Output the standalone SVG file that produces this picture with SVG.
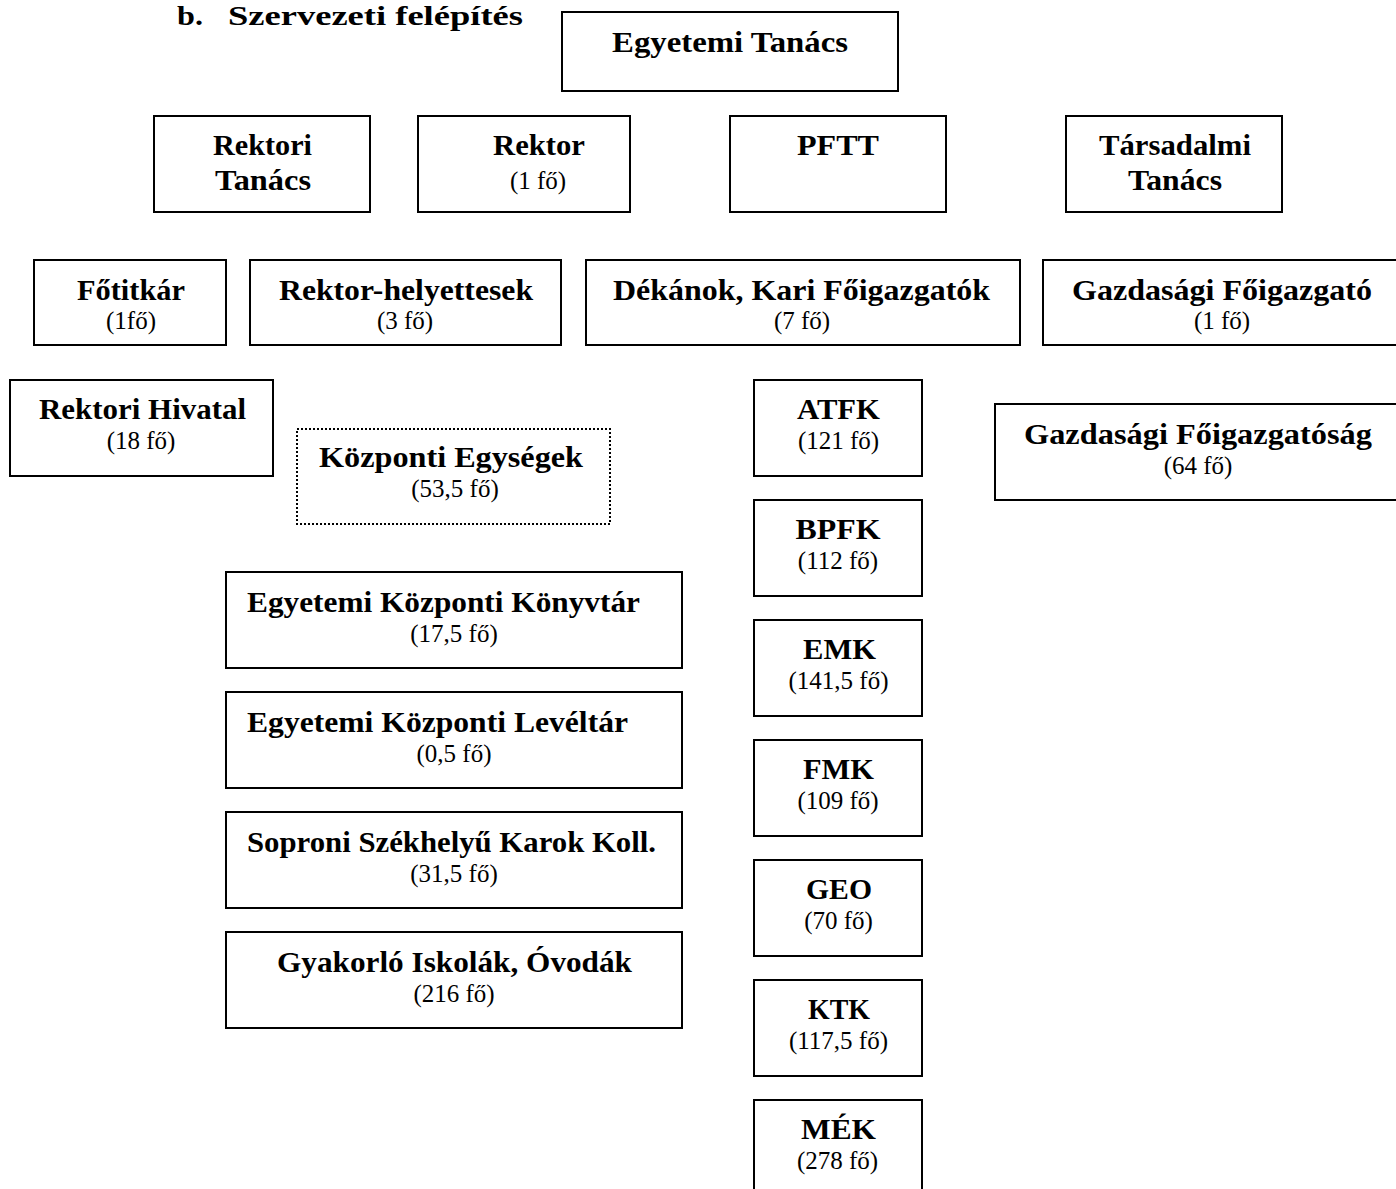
<svg xmlns="http://www.w3.org/2000/svg" width="1396" height="1189" viewBox="0 0 1396 1189">
<style>
.box{fill:#fff;stroke:#000;stroke-width:2}
.dot{fill:#fff;stroke:#000;stroke-width:2;stroke-dasharray:2 2}
.b{font-family:"Liberation Serif","Times New Roman",serif;font-weight:bold;font-size:29px;fill:#000;text-anchor:middle}
.r{font-family:"Liberation Serif","Times New Roman",serif;font-size:25px;fill:#000;text-anchor:middle}
.t{font-family:"Liberation Serif","Times New Roman",serif;font-weight:bold;font-size:27px;fill:#000}
</style>
<rect width="1396" height="1189" fill="#fff"/>
<text class="t" y="25"><tspan x="177" textLength="26" lengthAdjust="spacingAndGlyphs">b.</tspan><tspan x="228" textLength="295" lengthAdjust="spacingAndGlyphs">Szervezeti felépítés</tspan></text>
<g id="connectors"></g>
<g id="egyetemi-tanacs"><rect class="box" x="562" y="12" width="336" height="79"/><text class="b" x="730" y="52" textLength="236" lengthAdjust="spacingAndGlyphs">Egyetemi Tanács</text></g>
<g id="rektori-tanacs"><rect class="box" x="154" y="116" width="216" height="96"/><text class="b" x="262.5" y="155" textLength="99" lengthAdjust="spacingAndGlyphs">Rektori</text><text class="b" x="263" y="190" textLength="96" lengthAdjust="spacingAndGlyphs">Tanács</text></g>
<g id="rektor"><rect class="box" x="418" y="116" width="212" height="96"/><text class="b" x="539" y="155" textLength="92" lengthAdjust="spacingAndGlyphs">Rektor</text><text class="r" x="538" y="189">(1 fő)</text></g>
<g id="pftt"><rect class="box" x="730" y="116" width="216" height="96"/><text class="b" x="838" y="155" textLength="82" lengthAdjust="spacingAndGlyphs">PFTT</text></g>
<g id="tarsadalmi-tanacs"><rect class="box" x="1066" y="116" width="216" height="96"/><text class="b" x="1175" y="155" textLength="152" lengthAdjust="spacingAndGlyphs">Társadalmi</text><text class="b" x="1175" y="190" textLength="94" lengthAdjust="spacingAndGlyphs">Tanács</text></g>
<g id="fotitkar"><rect class="box" x="34" y="260" width="192" height="85"/><text class="b" x="131" y="300" textLength="108" lengthAdjust="spacingAndGlyphs">Főtitkár</text><text class="r" x="131" y="329">(1fő)</text></g>
<g id="rektor-helyettesek"><rect class="box" x="250" y="260" width="311" height="85"/><text class="b" x="406" y="300" textLength="254" lengthAdjust="spacingAndGlyphs">Rektor-helyettesek</text><text class="r" x="405" y="329">(3 fő)</text></g>
<g id="dekanok"><rect class="box" x="586" y="260" width="434" height="85"/><text class="b" x="801.5" y="300" textLength="377" lengthAdjust="spacingAndGlyphs">Dékánok, Kari Főigazgatók</text><text class="r" x="802" y="329">(7 fő)</text></g>
<g id="gazdasagi-foigazgato"><rect class="box" x="1043" y="260" width="360" height="85"/><text class="b" x="1222" y="300" textLength="300" lengthAdjust="spacingAndGlyphs">Gazdasági Főigazgató</text><text class="r" x="1222" y="329">(1 fő)</text></g>
<g id="rektori-hivatal"><rect class="box" x="10" y="380" width="263" height="96"/><text class="b" x="142.5" y="419" textLength="207" lengthAdjust="spacingAndGlyphs">Rektori Hivatal</text><text class="r" x="141" y="449">(18 fő)</text></g>
<g id="kozponti-egysegek"><rect class="dot" x="297" y="429" width="313" height="95"/><text class="b" x="451" y="467" textLength="264" lengthAdjust="spacingAndGlyphs">Központi Egységek</text><text class="r" x="455" y="497">(53,5 fő)</text></g>
<g id="atfk"><rect class="box" x="754" y="380" width="168" height="96"/><text class="b" x="838.5" y="419" textLength="83" lengthAdjust="spacingAndGlyphs">ATFK</text><text class="r" x="838.5" y="449">(121 fő)</text></g>
<g id="gazdasagi-foigazgatosag"><rect class="box" x="995" y="404" width="410" height="96"/><text class="b" x="1198" y="444" textLength="348" lengthAdjust="spacingAndGlyphs">Gazdasági Főigazgatóság</text><text class="r" x="1198" y="474">(64 fő)</text></g>
<g id="bpfk"><rect class="box" x="754" y="500" width="168" height="96"/><text class="b" x="838" y="539" textLength="85" lengthAdjust="spacingAndGlyphs">BPFK</text><text class="r" x="838" y="569">(112 fő)</text></g>
<g id="emk"><rect class="box" x="754" y="620" width="168" height="96"/><text class="b" x="839.5" y="659" textLength="73" lengthAdjust="spacingAndGlyphs">EMK</text><text class="r" x="838.5" y="689">(141,5 fő)</text></g>
<g id="fmk"><rect class="box" x="754" y="740" width="168" height="96"/><text class="b" x="838.5" y="779" textLength="71" lengthAdjust="spacingAndGlyphs">FMK</text><text class="r" x="838" y="809">(109 fő)</text></g>
<g id="geo"><rect class="box" x="754" y="860" width="168" height="96"/><text class="b" x="839" y="899" textLength="66" lengthAdjust="spacingAndGlyphs">GEO</text><text class="r" x="838.5" y="929">(70 fő)</text></g>
<g id="ktk"><rect class="box" x="754" y="980" width="168" height="96"/><text class="b" x="839" y="1019" textLength="62" lengthAdjust="spacingAndGlyphs">KTK</text><text class="r" x="838.5" y="1049">(117,5 fő)</text></g>
<g id="mek"><rect class="box" x="754" y="1100" width="168" height="96"/><text class="b" x="838.5" y="1139" textLength="75" lengthAdjust="spacingAndGlyphs">MÉK</text><text class="r" x="837.5" y="1169">(278 fő)</text></g>
<g id="konyvtar"><rect class="box" x="226" y="572" width="456" height="96"/><text class="b" x="443.5" y="612" textLength="393" lengthAdjust="spacingAndGlyphs">Egyetemi Központi Könyvtár</text><text class="r" x="454" y="642">(17,5 fő)</text></g>
<g id="leveltar"><rect class="box" x="226" y="692" width="456" height="96"/><text class="b" x="437.5" y="732" textLength="381" lengthAdjust="spacingAndGlyphs">Egyetemi Központi Levéltár</text><text class="r" x="454" y="762">(0,5 fő)</text></g>
<g id="soproni"><rect class="box" x="226" y="812" width="456" height="96"/><text class="b" x="451.5" y="852" textLength="409" lengthAdjust="spacingAndGlyphs">Soproni Székhelyű Karok Koll.</text><text class="r" x="454" y="882">(31,5 fő)</text></g>
<g id="gyakorlo"><rect class="box" x="226" y="932" width="456" height="96"/><text class="b" x="454.5" y="972" textLength="355" lengthAdjust="spacingAndGlyphs">Gyakorló Iskolák, Óvodák</text><text class="r" x="454" y="1002">(216 fő)</text></g>
</svg>
